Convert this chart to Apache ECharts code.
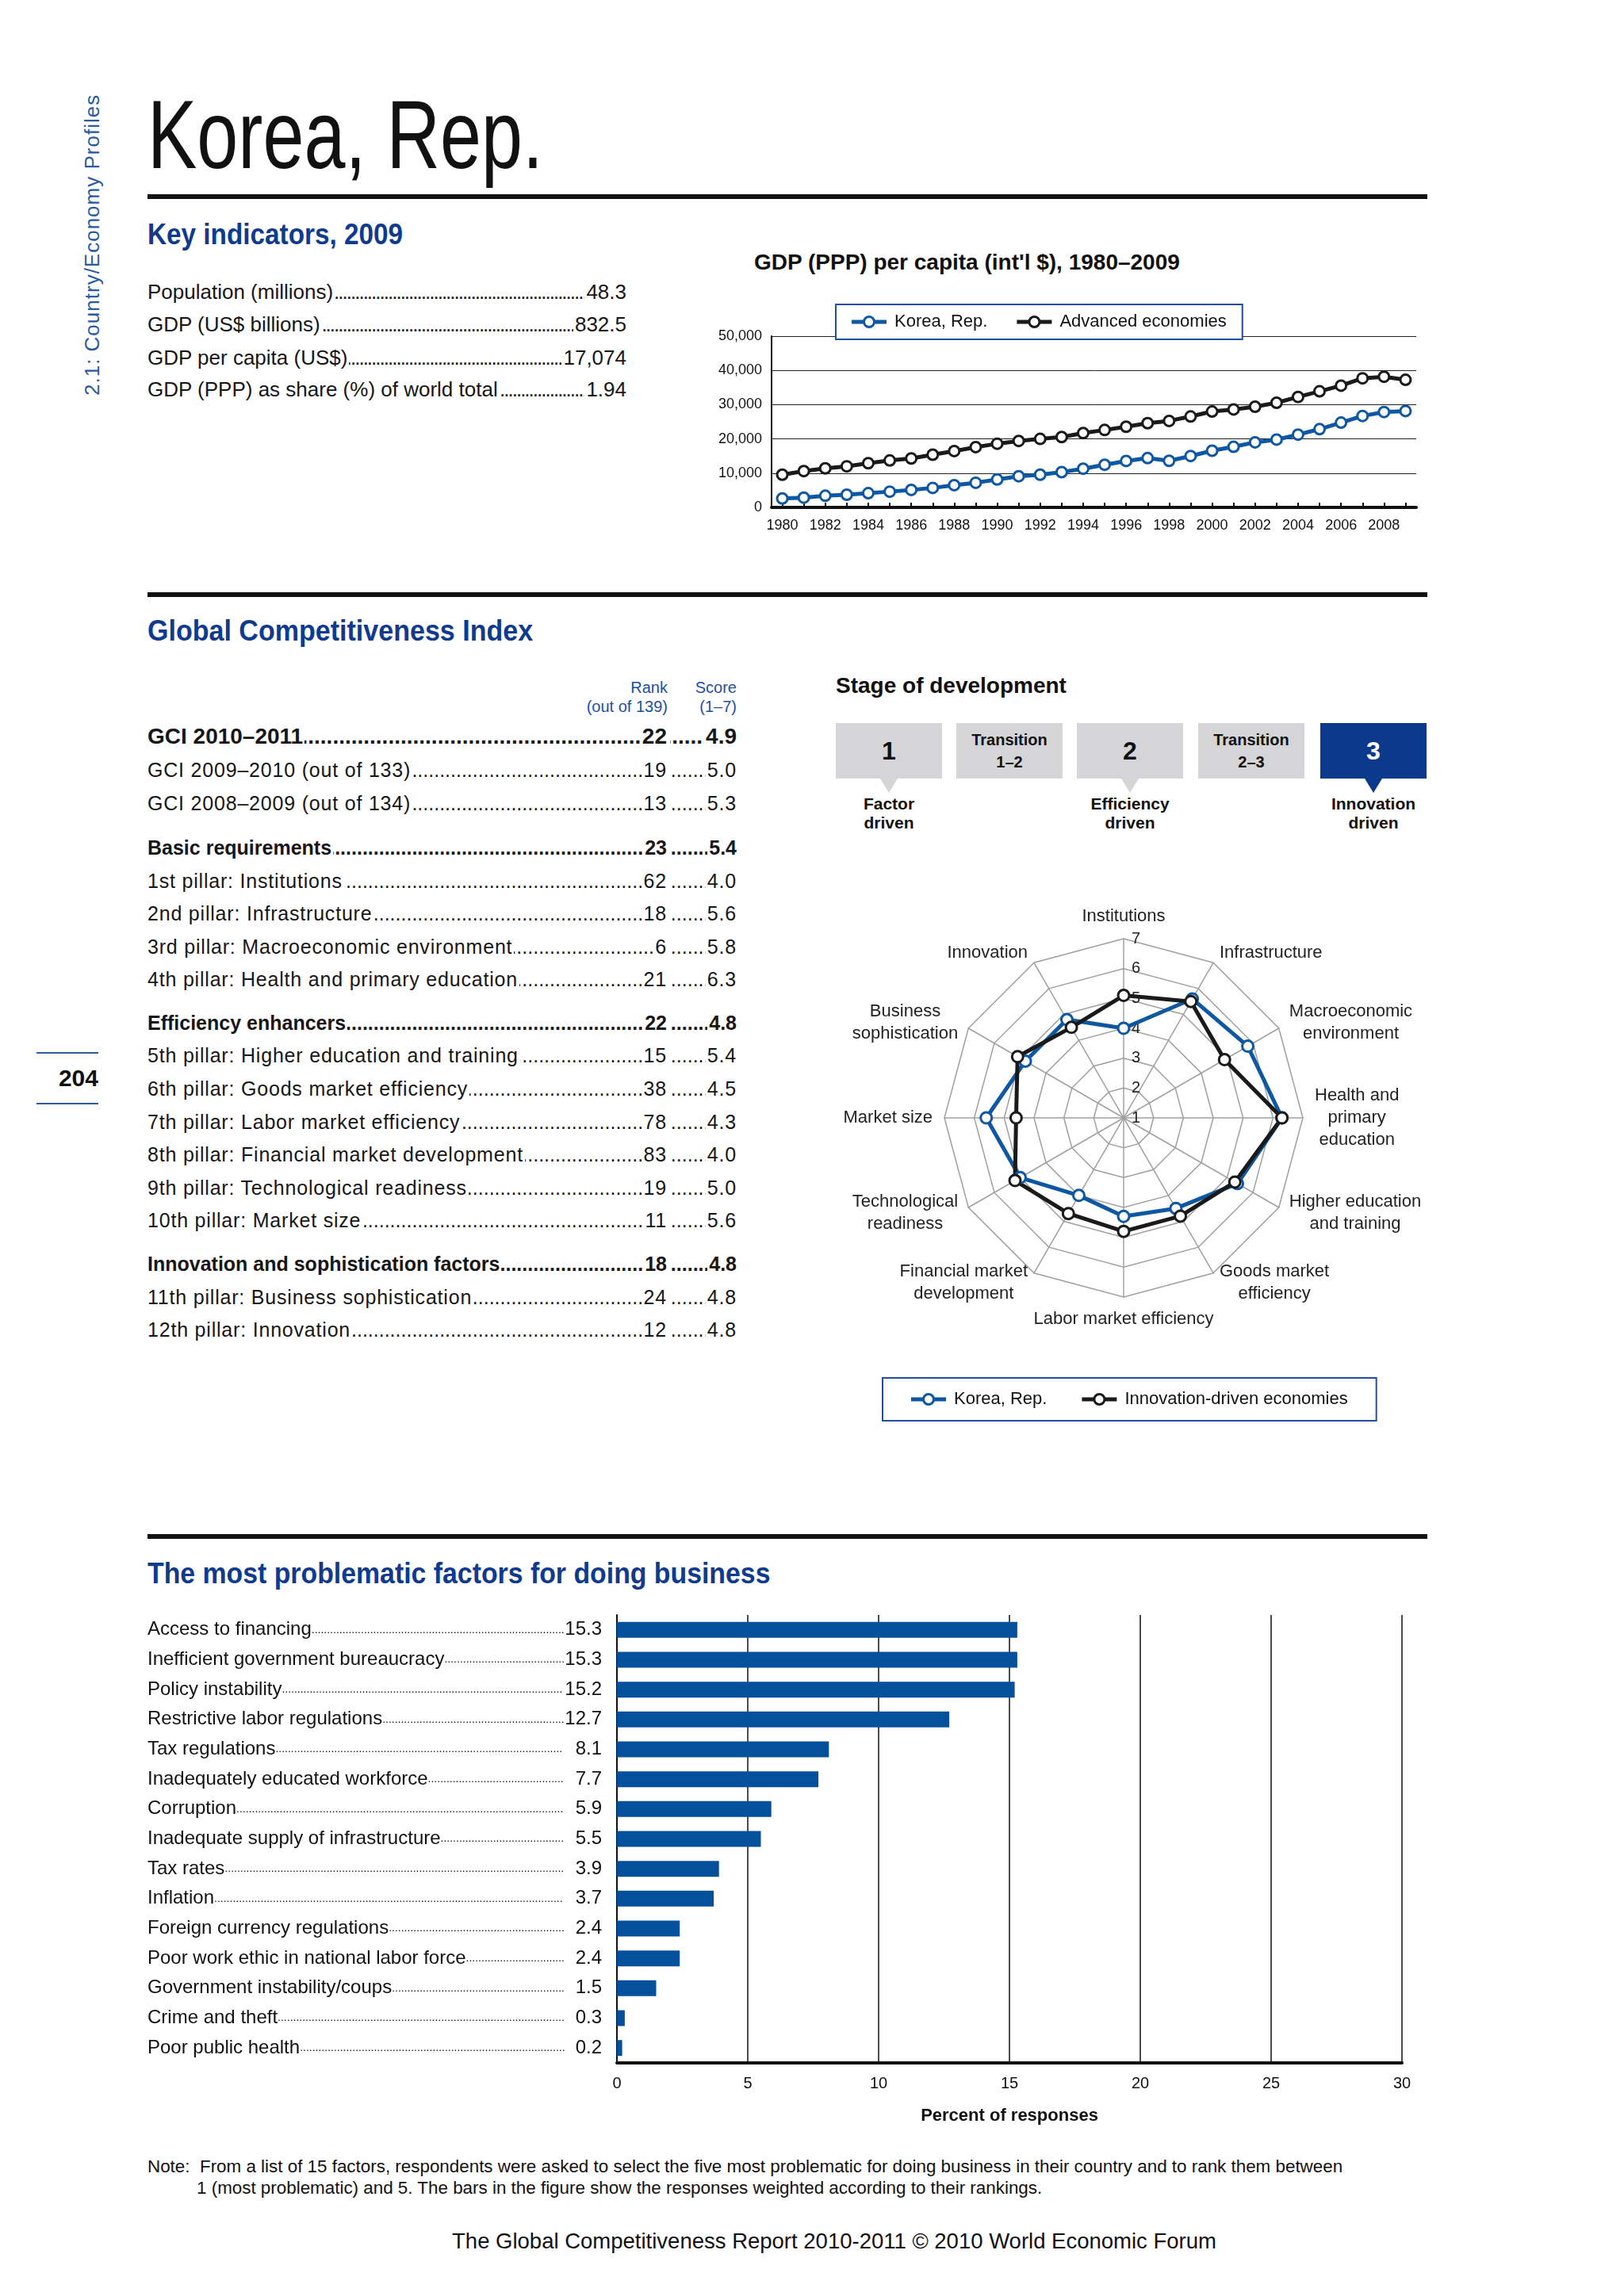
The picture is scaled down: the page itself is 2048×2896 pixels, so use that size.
<!DOCTYPE html>
<html>
<head>
<meta charset="utf-8">
<title>Korea, Rep.</title>
<script src="https://cdn.jsdelivr.net/npm/echarts@6/dist/echarts.min.js"></script>
<style>
  html, body { margin:0; padding:0; background:#fff; }
  body { position:relative; width:2048px; height:2896px; overflow:hidden; font-family:"Liberation Sans", Arial, sans-serif; color:#161616; }
  .t { position:absolute; white-space:nowrap; line-height:1; }
  .rule { position:absolute; left:186px; width:1614px; height:6px; background:#111; }
  .head { position:absolute; white-space:nowrap; line-height:1; font-weight:bold; color:#0f3a8d; transform-origin:0 0; }
  .ld { position:absolute; white-space:nowrap; line-height:1.2; overflow:hidden; }
  .ld .dt { position:absolute; left:0; right:0; top:0; overflow:hidden; }
  .ld .lb { position:absolute; top:0; background:#fff; }
  .box { position:absolute; background:#d5d5d7; display:flex; flex-direction:column; align-items:center; justify-content:center; font-weight:bold; color:#111; text-align:center; }
  .box.on { background:#0b3a8c; color:#fff; }
  .ptr { position:absolute; width:0; height:0; border-left:11px solid transparent; border-right:11px solid transparent; border-top:18px solid #d5d5d7; }
  .ptr.on { border-top-color:#0b3a8c; }
  .chart { position:absolute; }
</style>
</head>
<body>
<div id="page"></div>
<div id="gdpChart" class="chart" style="left:880px;top:360px;width:940px;height:340px;"></div>
<div id="radarChart" class="chart" style="left:1040px;top:1130px;width:780px;height:690px;"></div>
<div id="barChart" class="chart" style="left:150px;top:2020px;width:1660px;height:700px;"></div>
<script>
// ================= DATA =================
const keyIndicatorLabels = ['Population (millions)', 'GDP (US$ billions)', 'GDP per capita (US$)', 'GDP (PPP) as share (%) of world total'];
const keyIndicatorValues = ['48.3', '832.5', '17,074', '1.94'];

const gdpYears = ['1980','1981','1982','1983','1984','1985','1986','1987','1988','1989','1990','1991','1992','1993','1994','1995','1996','1997','1998','1999','2000','2001','2002','2003','2004','2005','2006','2007','2008','2009'];
const gdpKorea = [2600,2850,3400,3700,4150,4600,5100,5700,6500,7200,8150,9100,9550,10300,11300,12450,13550,14400,13600,15000,16550,17700,19000,19800,21250,22850,24750,26700,27850,28150];
const gdpAdvanced = [9550,10600,11400,12000,12900,13700,14300,15400,16450,17600,18600,19400,20000,20550,21700,22600,23550,24600,25250,26550,28000,28600,29400,30550,32250,33900,35550,37700,38150,37250];
const gdpSeriesNames = ['Korea, Rep.', 'Advanced economies'];

const gciLabels = ['GCI 2010–2011', 'GCI 2009–2010 (out of 133)', 'GCI 2008–2009 (out of 134)', 'Basic requirements', '1st pillar: Institutions', '2nd pillar: Infrastructure', '3rd pillar: Macroeconomic environment', '4th pillar: Health and primary education', 'Efficiency enhancers', '5th pillar: Higher education and training', '6th pillar: Goods market efficiency', '7th pillar: Labor market efficiency', '8th pillar: Financial market development', '9th pillar: Technological readiness', '10th pillar: Market size', 'Innovation and sophistication factors', '11th pillar: Business sophistication', '12th pillar: Innovation'];
const gciRanks = ['22','19','13','23','62','18','6','21','22','15','38','78','83','19','11','18','24','12'];
const gciScores = ['4.9','5.0','5.3','5.4','4.0','5.6','5.8','6.3','4.8','5.4','4.5','4.3','4.0','5.0','5.6','4.8','4.8','4.8'];

const stageNames = ['1', 'Transition\n1–2', '2', 'Transition\n2–3', '3'];
const stageDrivers = ['Factor\ndriven', '', 'Efficiency\ndriven', '', 'Innovation\ndriven'];
const currentStage = 4;

const pillarNames = ['Institutions', 'Infrastructure', 'Macroeconomic\nenvironment', 'Health and\nprimary\neducation', 'Higher education\nand training', 'Goods market\nefficiency', 'Labor market efficiency', 'Financial market\ndevelopment', 'Technological\nreadiness', 'Market size', 'Business\nsophistication', 'Innovation'];
const radarKorea = [4.0, 5.6, 5.8, 6.3, 5.4, 4.5, 4.3, 4.0, 5.0, 5.6, 4.8, 4.8];
const radarInnovationDriven = [5.1, 5.5, 4.9, 6.3, 5.3, 4.8, 4.8, 4.7, 5.2, 4.6, 5.1, 4.5];
const radarSeriesNames = ['Korea, Rep.', 'Innovation-driven economies'];

const factorNames = ['Access to financing', 'Inefficient government bureaucracy', 'Policy instability', 'Restrictive labor regulations', 'Tax regulations', 'Inadequately educated workforce', 'Corruption', 'Inadequate supply of infrastructure', 'Tax rates', 'Inflation', 'Foreign currency regulations', 'Poor work ethic in national labor force', 'Government instability/coups', 'Crime and theft', 'Poor public health'];
const factorValues = [15.3, 15.3, 15.2, 12.7, 8.1, 7.7, 5.9, 5.5, 3.9, 3.7, 2.4, 2.4, 1.5, 0.3, 0.2];

// ================= PAGE TEXT =================
const F = '"Liberation Sans", Arial, sans-serif';
const KOREA = '#0d57a3';
const DARK = '#1a1a1a';
const page = document.getElementById('page');
function add(html) { page.insertAdjacentHTML('beforeend', html); }
function esc(s) { return s.replace(/&/g,'&amp;').replace(/</g,'&lt;'); }
const DOTS = '.'.repeat(400);

// side text + page number
add('<div class="t" style="left:103px;top:499px;font-size:26px;letter-spacing:1px;color:#2c5aa0;transform-origin:0 0;transform:rotate(-90deg);">2.1: Country/Economy Profiles</div>');
add('<div style="position:absolute;left:46px;top:1327px;width:78px;height:2px;background:#2c5aa0"></div>');
add('<div style="position:absolute;left:46px;top:1391px;width:78px;height:2px;background:#2c5aa0"></div>');
add('<div class="t" style="right:1924px;top:1345px;font-size:30px;font-weight:bold;color:#111;">204</div>');

// title and rules
add('<div class="t" style="left:186px;top:108px;font-size:123px;color:#111;transform-origin:0 0;transform:scaleX(0.76);">Korea, Rep.</div>');
add('<div class="rule" style="top:245px"></div>');
add('<div class="rule" style="top:747px"></div>');
add('<div class="rule" style="top:1935px"></div>');

add('<div class="head" style="left:186px;top:277px;font-size:37px;transform:scaleX(0.9)">Key indicators, 2009</div>');
add('<div class="head" style="left:186px;top:777px;font-size:37px;transform:scaleX(0.92)">Global Competitiveness Index</div>');
add('<div class="head" style="left:186px;top:1966px;font-size:37px;transform:scaleX(0.914)">The most problematic factors for doing business</div>');
add('<div class="t" style="left:951px;top:317px;font-size:28px;font-weight:bold;color:#111;">GDP (PPP) per capita (int\'l $), 1980–2009</div>');
add('<div class="t" style="left:1054px;top:851px;font-size:28px;font-weight:bold;color:#111;">Stage of development</div>');

// leader rows: label at left, values right-aligned at given right offsets, dots filling the gaps
function leaderRow(left, width, baseline, fs, extra, dotLS, label, vals, rights) {
  const top = baseline - fs * (0.1 + 0.8465);
  let h = '<div class="ld" style="left:' + left + 'px;width:' + width + 'px;top:' + top + 'px;font-size:' + fs + 'px;height:' + (fs * 1.2) + 'px;' + extra + '">' +
          '<div class="dt" style="letter-spacing:' + dotLS + 'px">' + DOTS + '</div>' +
          '<span class="lb" style="left:0;padding-right:2px;">' + esc(label) + '</span>';
  vals.forEach((v, k) => {
    h += '<span class="lb" style="right:' + rights[k] + 'px;padding-left:2px;padding-right:' + (rights[k] > 0 ? 4 : 0) + 'px;">' + esc(v) + '</span>';
  });
  add(h + '</div>');
}

// key indicators
const kiBase = [378, 419, 461, 501];
keyIndicatorLabels.forEach((lab, i) => {
  leaderRow(186, 604, kiBase[i], 26, '', -2, lab, [keyIndicatorValues[i]], [0]);
});

// GCI header
add('<div class="t" style="right:1206px;top:855px;font-size:20px;color:#1f4f9f;text-align:right;line-height:24px;">Rank<br>(out of 139)</div>');
add('<div class="t" style="right:1119px;top:855px;font-size:20px;color:#1f4f9f;text-align:right;line-height:24px;">Score<br>(1–7)</div>');

// GCI rows
const gciBase = [939, 980, 1022, 1078, 1120, 1161, 1203, 1244, 1299, 1340, 1382, 1424, 1465, 1507, 1548, 1603, 1645, 1686];
const gciBold = [0, 3, 8, 15];
gciLabels.forEach((lab, i) => {
  const big = i === 0;
  const bold = gciBold.indexOf(i) >= 0;
  const fs = big ? 28 : 25;
  const st = bold ? 'font-weight:bold;' : 'letter-spacing:0.8px;';
  leaderRow(186, 743, gciBase[i], fs, st + 'color:#161616;', 0, lab, [gciRanks[i], gciScores[i]], [84, 0]);
});

// stage of development
const stageLeft = [1054, 1206, 1358, 1511, 1665];
stageNames.forEach((nm, i) => {
  const on = i === currentStage;
  const single = nm.indexOf('\n') < 0;
  const fs = single ? 32 : 20;
  add('<div class="box' + (on ? ' on' : '') + '" style="left:' + stageLeft[i] + 'px;top:912px;width:134px;height:70px;font-size:' + fs + 'px;line-height:28px;">' +
      nm.split('\n').map(esc).join('<br>') + '</div>');
  if (stageDrivers[i]) {
    add('<div class="ptr' + (on ? ' on' : '') + '" style="left:' + (stageLeft[i] + 56) + 'px;top:982px;"></div>');
    add('<div class="t" style="left:' + stageLeft[i] + 'px;width:134px;top:1002px;font-size:21px;font-weight:bold;line-height:24px;text-align:center;color:#111;">' +
        stageDrivers[i].split('\n').map(esc).join('<br>') + '</div>');
  }
});

// note and footer
add('<div class="t" style="left:186px;top:2722px;font-size:22.4px;color:#111;">Note:&nbsp; From a list of 15 factors, respondents were asked to select the five most problematic for doing business in their country and to rank them between</div>');
add('<div class="t" style="left:248px;top:2749px;font-size:22.4px;color:#111;">1 (most problematic) and 5. The bars in the figure show the responses weighted according to their rankings.</div>');
add('<div class="t" style="left:0;width:2104px;text-align:center;top:2813px;font-size:27.5px;color:#111;">The Global Competitiveness Report 2010-2011 © 2010 World Economic Forum</div>');

// legend icon: thick line with a hollow circle
const LINE_ICON = 'path://M0,5.5 H15 V10.5 H0 Z M29,5.5 H44 V10.5 H29 Z M22,0 A8,8 0 1,1 21.99,0 Z M22,3 A5,5 0 1,0 22.01,3 Z';
function legendItem(name, color) { return { name: name, icon: LINE_ICON, itemStyle: { color: color, borderWidth: 0 } }; }

// ================= GDP CHART =================
function lineSeries(name, data, color) {
  return {
    name: name, type: 'line', data: data, showAllSymbol: true,
    symbol: 'circle', symbolSize: 13,
    lineStyle: { color: color, width: 5 },
    itemStyle: { color: '#fff', borderColor: color, borderWidth: 3 }
  };
}
const gdpChart = echarts.init(document.getElementById('gdpChart'));
gdpChart.setOption({
  animation: false,
  grid: { left: 93, right: 34, top: 64, bottom: 60 },
  legend: {
    data: [legendItem(gdpSeriesNames[0], KOREA), legendItem(gdpSeriesNames[1], DARK)],
    left: 174, top: 24, padding: [11, 20], itemGap: 37,
    itemWidth: 44, itemHeight: 16, borderColor: '#1f4f9f', borderWidth: 2, backgroundColor: '#fff',
    textStyle: { fontSize: 22, color: '#111', fontFamily: F, padding: [0, 0, 0, 5] }
  },
  xAxis: {
    type: 'category', data: gdpYears, boundaryGap: true,
    axisLine: { lineStyle: { color: '#111', width: 4 } },
    axisTick: { show: true, inside: true, length: 6, alignWithLabel: true, interval: 0, lineStyle: { color: '#111', width: 2 } },
    axisLabel: { interval: 1, fontSize: 18, color: '#111', margin: 14, fontFamily: F }
  },
  yAxis: {
    type: 'value', min: 0, max: 50000, interval: 10000,
    axisLine: { show: true, lineStyle: { color: '#111', width: 2 } },
    axisTick: { show: false },
    splitLine: { lineStyle: { color: '#222', width: 1 } },
    axisLabel: { fontSize: 18, color: '#111', margin: 12, fontFamily: F, formatter: v => echarts.format.addCommas(v) }
  },
  series: [lineSeries(gdpSeriesNames[0], gdpKorea, KOREA), lineSeries(gdpSeriesNames[1], gdpAdvanced, DARK)]
});

// ================= RADAR CHART =================
const mctx = document.createElement('canvas').getContext('2d');
function textW(s, font) { mctx.font = font; return mctx.measureText(s).width; }
const radarOrder = [0, 11, 10, 9, 8, 7, 6, 5, 4, 3, 2, 1]; // clockwise from the top
const nameFont = '22px "Liberation Sans", Arial, sans-serif';
const radarRich = {};
const nameKey = {};
pillarNames.forEach((nm, i) => {
  const w = Math.max.apply(null, nm.split('\n').map(l => textW(l, nameFont))) + 2;
  radarRich['p' + i] = { width: w, align: 'center', fontSize: 22, color: '#222', fontFamily: F, lineHeight: 28 };
  nameKey[nm] = 'p' + i;
});
function radarSeries(name, vals, color) {
  return {
    name: name, value: radarOrder.map(i => vals[i]),
    symbol: 'circle', symbolSize: 14,
    lineStyle: { color: color, width: 5 },
    itemStyle: { color: '#fff', borderColor: color, borderWidth: 3 }
  };
}
const radarChart = echarts.init(document.getElementById('radarChart'));
radarChart.setOption({
  animation: false,
  legend: {
    data: [legendItem(radarSeriesNames[0], KOREA), legendItem(radarSeriesNames[1], DARK)],
    left: 73, top: 608, padding: [16, 36], itemGap: 44,
    itemWidth: 44, itemHeight: 16, borderColor: '#1f4f9f', borderWidth: 2, backgroundColor: '#fff',
    textStyle: { fontSize: 22, color: '#111', fontFamily: F, padding: [0, 0, 0, 5] }
  },
  radar: {
    center: [377, 280], radius: 226, startAngle: 90, shape: 'polygon', splitNumber: 6,
    indicator: radarOrder.map(i => ({ name: pillarNames[i], min: 1, max: 7 })),
    nameGap: 14,
    axisName: {
      color: '#222', fontSize: 22, fontFamily: F,
      formatter: function (nm) { const k = nameKey[nm]; return nm.split('\n').map(l => '{' + k + '|' + l + '}').join('\n'); },
      rich: radarRich
    },
    axisLine: { lineStyle: { color: '#a0a0a0', width: 1.5 } },
    splitLine: { lineStyle: { color: '#a0a0a0', width: 1.5 } },
    splitArea: { show: false }
  },
  polar: { center: [377, 280], radius: 226 },
  angleAxis: { show: false, startAngle: 90, min: 0, max: 360 },
  radiusAxis: {
    min: 1, max: 7, interval: 1,
    axisLine: { show: false }, axisTick: { show: false }, splitLine: { show: false },
    axisLabel: { show: true, fontSize: 20, color: '#222', fontFamily: F, margin: -10, align: 'left' }
  },
  series: [
    { type: 'scatter', coordinateSystem: 'polar', data: [], silent: true },
    {
      type: 'radar',
      data: [radarSeries(radarSeriesNames[0], radarKorea, KOREA), radarSeries(radarSeriesNames[1], radarInnovationDriven, DARK)]
    }
  ]
});

// ================= BAR CHART =================
const barChart = echarts.init(document.getElementById('barChart'));
barChart.setOption({
  animation: false,
  grid: { left: 628, right: 42, top: 17, bottom: 118 },
  xAxis: {
    type: 'value', min: 0, max: 30, interval: 5,
    axisLine: { show: true, lineStyle: { color: '#111', width: 4 } },
    axisTick: { show: false },
    splitLine: { show: true, lineStyle: { color: '#111', width: 1.5 } },
    axisLabel: { fontSize: 20, color: '#111', margin: 16, fontFamily: F },
    name: 'Percent of responses', nameLocation: 'middle', nameGap: 56,
    nameTextStyle: { fontSize: 22, fontWeight: 'bold', color: '#111', fontFamily: F }
  },
  yAxis: [
    {
      type: 'category', data: factorNames, inverse: true, position: 'left',
      axisLine: { show: true, lineStyle: { color: '#111', width: 2 } },
      axisTick: { show: false },
      axisLabel: { interval: 0, margin: 19, fontSize: 24, color: '#111', fontFamily: F, formatter: (v, i) => factorValues[i].toFixed(1) }
    },
    {
      type: 'category', data: factorNames, inverse: true, position: 'left', offset: 592,
      axisLine: { show: false }, axisTick: { show: false },
      axisLabel: {
        interval: 0, margin: 0, align: 'left', width: 528, overflow: 'truncate', ellipsis: '',
        formatter: v => '{n|' + v + '}{d|' + '.'.repeat(170) + '}',
        rich: { n: { fontSize: 24, color: '#111', fontFamily: F }, d: { fontSize: 14, color: '#111', fontFamily: F } }
      }
    }
  ],
  series: [{ type: 'bar', yAxisIndex: 0, data: factorValues, barWidth: 20, itemStyle: { color: '#05509d' } }]
});
</script>
</body>
</html>
